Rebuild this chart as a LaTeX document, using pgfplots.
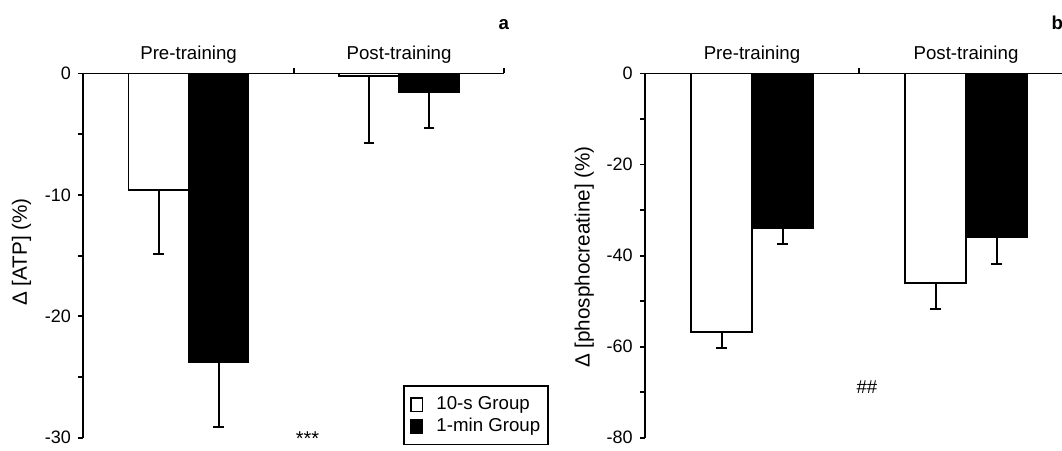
\documentclass[border=0pt]{standalone}
\usepackage{pgfplots}
\pgfplotsset{compat=1.18}
\usepackage{fontspec}
\setmainfont{Liberation Sans}
\begin{document}
\begin{tikzpicture}
\useasboundingbox (0,0) rectangle (796.5pt,337.5pt);
\clip (0,0) rectangle (796.5pt,337.5pt);
\pgfplotsset{
  panel/.style={
    scale only axis,
    height=273.2pt,
    anchor=north west,
    xmin=0, xmax=2,
    axis x line*=top, axis y line*=left,
    axis line style={line width=1.4pt},
    xtick={1,2}, xticklabels={},
    extra x ticks={0.5,1.5},
    extra x tick labels={Pre-training,Post-training},
    extra x tick style={major tick length=0pt},
    xticklabel pos=right,
    xtick align=inside, ytick align=outside,
    major tick length=3.75pt,
    every tick/.style={black, line width=1.4pt},
    xticklabel style={font=\fontsize{14}{16}\selectfont, yshift=4.3pt},
    yticklabel style={font=\fontsize{13.5}{15}\selectfont, xshift=-2pt},
    ylabel style={font=\fontsize{15.5}{17}\selectfont, anchor=center},
    ybar=0pt, bar width=0.285,
    clip=false,
  },
  wbar/.style={fill=white, draw=black, line width=1.4pt,
    error bars/.cd, y dir=minus, y explicit,
    error bar style={line width=1.5pt, black},
    error mark options={rotate=90, mark size=4pt, line width=1.5pt, black}},
  bbar/.style={fill=black, draw=black, line width=1.4pt,
    error bars/.cd, y dir=minus, y explicit,
    error bar style={line width=1.5pt, black},
    error mark options={rotate=90, mark size=4pt, line width=1.5pt, black}},
}
% Panel a
\begin{axis}[panel, at={(62.48pt,282.4pt)}, width=315.75pt,
  ymin=-30, ymax=0,
  ytick={-30,-25,...,0}, yticklabels={-30,{},-20,{},-10,{},0},
  ylabel={Δ [ATP] (\%)},
  ylabel style={at={(axis description cs:-0.147,0.51)}},
  legend style={at={(axis description cs:0.7594,0.1449)}, anchor=north west,
    draw=black, line width=1.2pt, font=\fontsize{14}{16}\selectfont,
    inner xsep=5pt, inner ysep=7pt, row sep=3pt,
    nodes={inner sep=1pt, anchor=west},
    /tikz/every odd column/.append style={column sep=9pt}},
  legend image code/.code={\draw[#1, line width=1pt] (0pt,-5.5pt) rectangle (8.5pt,4.5pt);},
]
\addplot[wbar] coordinates {(0.5,-9.6) -= (0,5.3) (1.5,-0.2) -= (0,5.5)};
\addlegendentry{10-s Group}
\addplot[bbar] coordinates {(0.5,-23.8) -= (0,5.3) (1.5,-1.5) -= (0,3.0)};
\addlegendentry{1-min Group}
\node[font=\fontsize{15}{17}\selectfont, anchor=base, inner sep=0pt] at (axis cs:1.065,-30.62) {***};
\node[font=\fontsize{14}{16}\selectfont\bfseries, anchor=base] at (axis description cs:0.999,1.1194) {a};
\end{axis}
% Panel b
\begin{axis}[panel, at={(483.75pt,282.4pt)}, width=321pt,
  ymin=-80, ymax=0,
  ytick={-80,-70,...,0}, yticklabels={-80,{},-60,{},-40,{},-20,{},0},
  ylabel={Δ [phosphocreatine] (\%)},
  ylabel style={at={(axis description cs:-0.1418,0.496)}},
]
\addplot[wbar] coordinates {(0.5,-56.7) -= (0,3.7) (1.5,-46.1) -= (0,5.7)};
\addplot[bbar] coordinates {(0.5,-34.0) -= (0,3.5) (1.5,-36.0) -= (0,5.8)};
\node[font=\fontsize{14}{16}\selectfont] at (axis cs:1.037,-68.8) {\#\#};
\node[font=\fontsize{14}{16}\selectfont\bfseries, anchor=base west, inner sep=0pt] at (axis description cs:0.9495,1.1194) {b};
\end{axis}
\end{tikzpicture}
\end{document}
